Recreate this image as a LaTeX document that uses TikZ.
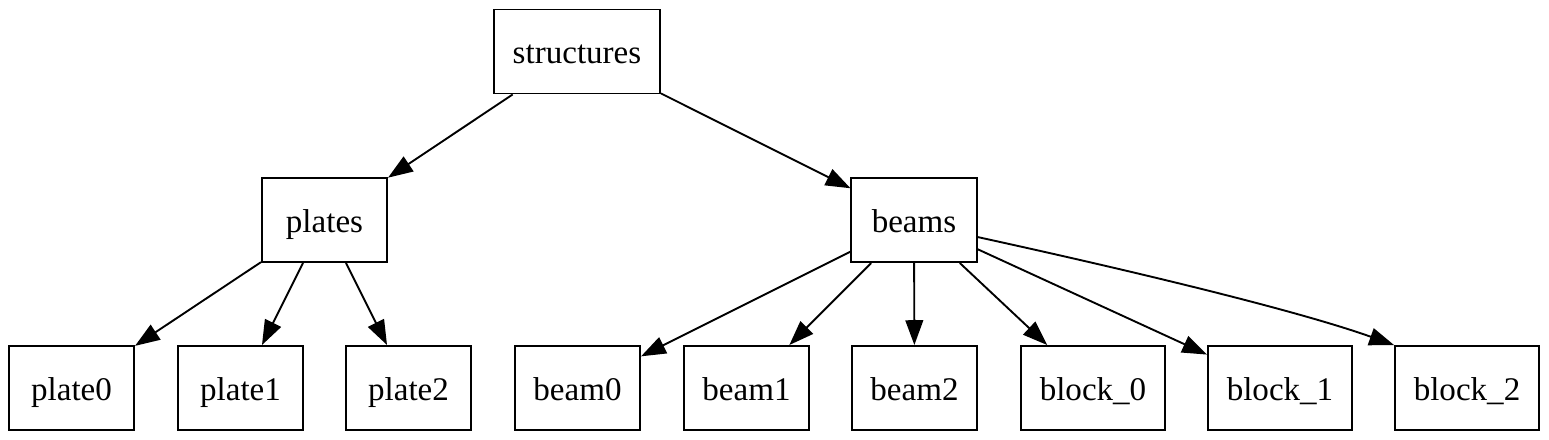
\documentclass[tikz,border=0pt]{standalone}
\usepackage{fontspec}
\setmainfont{Liberation Serif}
\usetikzlibrary{arrows.meta}
\begin{document}
\begin{tikzpicture}[x=0.4235pt,y=-0.4235pt,
  box/.style={draw,line width=0.8pt,minimum width=53pt,minimum height=35.6pt,inner sep=0pt,text height=10.5pt,text depth=0pt,font=\fontsize{14pt}{16pt}\selectfont},
  wbox/.style={box,minimum width=61pt},
  sbox/.style={box,minimum width=70.3pt},
  arr/.style={line width=0.8pt,-{Triangle[length=10.5pt,width=7.5pt]}}]
\useasboundingbox (0,0) rectangle (1549,440);
\node[sbox] (structures) at (577,51.5) {structures};
\node[box] (plates) at (324.5,220) {plates};
\node[box] (beams) at (914,220) {beams};
\node[box] (plate0) at (71.5,388) {plate0};
\node[box] (plate1) at (240.5,388) {plate1};
\node[box] (plate2) at (408.5,388) {plate2};
\node[box] (beam0) at (577.5,388) {beam0};
\node[box] (beam1) at (746.5,388) {beam1};
\node[box] (beam2) at (914.5,388) {beam2};
\node[wbox] (block0) at (1093,388) {block\_0};
\node[wbox] (block1) at (1280,388) {block\_1};
\node[wbox] (block2) at (1467,388) {block\_2};
\draw[arr] (structures) -- (plates);
\draw[arr] (structures) -- (beams);
\draw[arr] (plates) -- (plate0);
\draw[arr] (plates) -- (plate1);
\draw[arr] (plates) -- (plate2);
\draw[arr] (beams) -- (beam0);
\draw[arr] (beams) -- (beam1);
\draw[arr] (beams) -- (beam2);
\draw[arr] (beams) -- (block0);
\draw[arr] (beams) -- (block1);
\draw[arr] (beams.-15) .. controls (1110,266) and (1290,308) .. (block2.north west);
\end{tikzpicture}
\end{document}
